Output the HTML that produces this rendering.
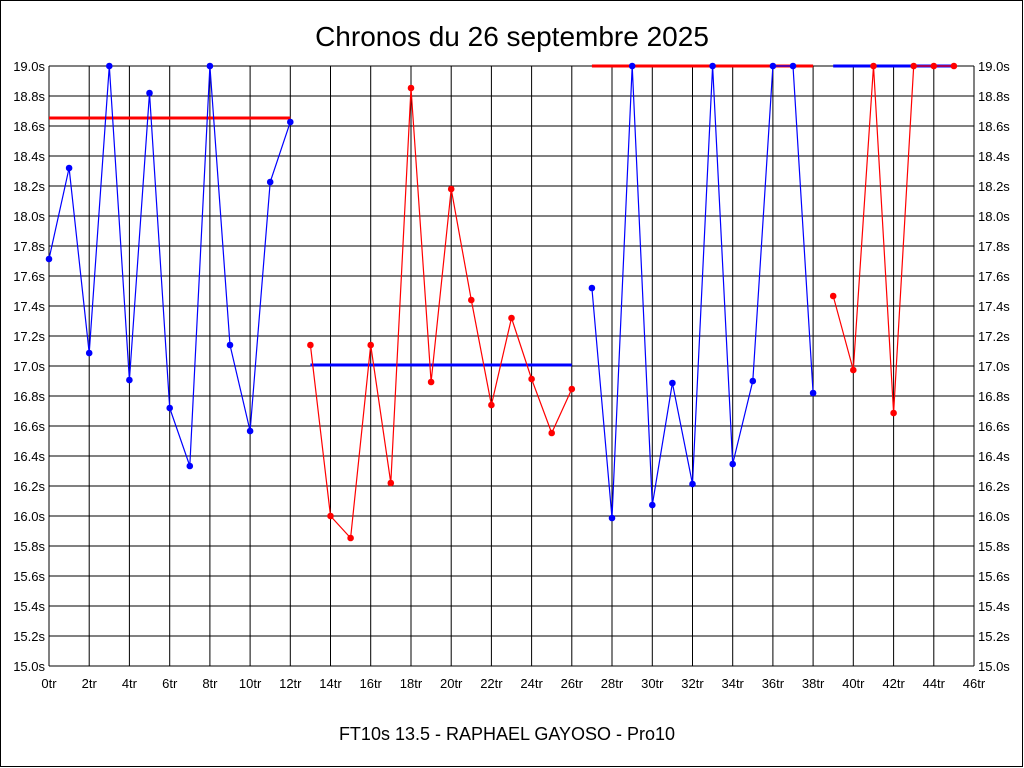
<!DOCTYPE html><html><head><style>body{margin:0;background:#fff}svg{display:block}</style></head><body>
<svg width="1024" height="768" xmlns="http://www.w3.org/2000/svg" font-family="Liberation Sans, sans-serif">
<rect x="0.5" y="0.5" width="1022" height="766" fill="#fff" stroke="#000"/>
<text x="512" y="46" font-size="28" text-anchor="middle">Chronos du 26 septembre 2025</text>
<text x="507" y="740" font-size="18" text-anchor="middle">FT10s 13.5 - RAPHAEL GAYOSO - Pro10</text>
<g stroke="#000" stroke-width="1">
<line x1="49" x2="974" y1="66" y2="66"/><line x1="49" x2="974" y1="96" y2="96"/><line x1="49" x2="974" y1="126" y2="126"/><line x1="49" x2="974" y1="156" y2="156"/><line x1="49" x2="974" y1="186" y2="186"/><line x1="49" x2="974" y1="216" y2="216"/><line x1="49" x2="974" y1="246" y2="246"/><line x1="49" x2="974" y1="276" y2="276"/><line x1="49" x2="974" y1="306" y2="306"/><line x1="49" x2="974" y1="336" y2="336"/><line x1="49" x2="974" y1="366" y2="366"/><line x1="49" x2="974" y1="396" y2="396"/><line x1="49" x2="974" y1="426" y2="426"/><line x1="49" x2="974" y1="456" y2="456"/><line x1="49" x2="974" y1="486" y2="486"/><line x1="49" x2="974" y1="516" y2="516"/><line x1="49" x2="974" y1="546" y2="546"/><line x1="49" x2="974" y1="576" y2="576"/><line x1="49" x2="974" y1="606" y2="606"/><line x1="49" x2="974" y1="636" y2="636"/><line x1="49" x2="974" y1="666" y2="666"/>
<line x1="49" x2="49" y1="66" y2="666"/><line x1="89.2" x2="89.2" y1="66" y2="666"/><line x1="129.4" x2="129.4" y1="66" y2="666"/><line x1="169.7" x2="169.7" y1="66" y2="666"/><line x1="209.9" x2="209.9" y1="66" y2="666"/><line x1="250.1" x2="250.1" y1="66" y2="666"/><line x1="290.3" x2="290.3" y1="66" y2="666"/><line x1="330.5" x2="330.5" y1="66" y2="666"/><line x1="370.7" x2="370.7" y1="66" y2="666"/><line x1="411" x2="411" y1="66" y2="666"/><line x1="451.2" x2="451.2" y1="66" y2="666"/><line x1="491.4" x2="491.4" y1="66" y2="666"/><line x1="531.6" x2="531.6" y1="66" y2="666"/><line x1="571.8" x2="571.8" y1="66" y2="666"/><line x1="612" x2="612" y1="66" y2="666"/><line x1="652.3" x2="652.3" y1="66" y2="666"/><line x1="692.5" x2="692.5" y1="66" y2="666"/><line x1="732.7" x2="732.7" y1="66" y2="666"/><line x1="772.9" x2="772.9" y1="66" y2="666"/><line x1="813.1" x2="813.1" y1="66" y2="666"/><line x1="853.3" x2="853.3" y1="66" y2="666"/><line x1="893.6" x2="893.6" y1="66" y2="666"/><line x1="933.8" x2="933.8" y1="66" y2="666"/><line x1="974" x2="974" y1="66" y2="666"/>
</g>
<g font-size="13" text-anchor="end">
<text x="45" y="71">19.0s</text><text x="45" y="101">18.8s</text><text x="45" y="131">18.6s</text><text x="45" y="161">18.4s</text><text x="45" y="191">18.2s</text><text x="45" y="221">18.0s</text><text x="45" y="251">17.8s</text><text x="45" y="281">17.6s</text><text x="45" y="311">17.4s</text><text x="45" y="341">17.2s</text><text x="45" y="371">17.0s</text><text x="45" y="401">16.8s</text><text x="45" y="431">16.6s</text><text x="45" y="461">16.4s</text><text x="45" y="491">16.2s</text><text x="45" y="521">16.0s</text><text x="45" y="551">15.8s</text><text x="45" y="581">15.6s</text><text x="45" y="611">15.4s</text><text x="45" y="641">15.2s</text><text x="45" y="671">15.0s</text>
</g>
<g font-size="13">
<text x="978" y="71">19.0s</text><text x="978" y="101">18.8s</text><text x="978" y="131">18.6s</text><text x="978" y="161">18.4s</text><text x="978" y="191">18.2s</text><text x="978" y="221">18.0s</text><text x="978" y="251">17.8s</text><text x="978" y="281">17.6s</text><text x="978" y="311">17.4s</text><text x="978" y="341">17.2s</text><text x="978" y="371">17.0s</text><text x="978" y="401">16.8s</text><text x="978" y="431">16.6s</text><text x="978" y="461">16.4s</text><text x="978" y="491">16.2s</text><text x="978" y="521">16.0s</text><text x="978" y="551">15.8s</text><text x="978" y="581">15.6s</text><text x="978" y="611">15.4s</text><text x="978" y="641">15.2s</text><text x="978" y="671">15.0s</text>
</g>
<g font-size="13" text-anchor="middle">
<text x="49" y="688">0tr</text><text x="89.2" y="688">2tr</text><text x="129.4" y="688">4tr</text><text x="169.7" y="688">6tr</text><text x="209.9" y="688">8tr</text><text x="250.1" y="688">10tr</text><text x="290.3" y="688">12tr</text><text x="330.5" y="688">14tr</text><text x="370.7" y="688">16tr</text><text x="411" y="688">18tr</text><text x="451.2" y="688">20tr</text><text x="491.4" y="688">22tr</text><text x="531.6" y="688">24tr</text><text x="571.8" y="688">26tr</text><text x="612" y="688">28tr</text><text x="652.3" y="688">30tr</text><text x="692.5" y="688">32tr</text><text x="732.7" y="688">34tr</text><text x="772.9" y="688">36tr</text><text x="813.1" y="688">38tr</text><text x="853.3" y="688">40tr</text><text x="893.6" y="688">42tr</text><text x="933.8" y="688">44tr</text><text x="974" y="688">46tr</text>
</g>
<g stroke-width="3">
<line x1="49" x2="290.3" y1="118" y2="118" stroke="#f00"/>
<line x1="310.4" x2="571.8" y1="365" y2="365" stroke="#00f"/>
<line x1="591.9" x2="813.1" y1="66" y2="66" stroke="#f00"/>
<line x1="833.2" x2="953.9" y1="66" y2="66" stroke="#00f"/>
</g>
<g fill="none" stroke-width="1.2">
<polyline stroke="#00f" points="49,259 69.1,168 89.2,353 109.3,66 129.4,380 149.5,93 169.7,408 189.8,466 209.9,66 230,345 250.1,431 270.2,182 290.3,122"/>
<polyline stroke="#f00" points="310.4,345 330.5,516 350.6,538 370.7,345 390.8,483 411,88 431.1,382 451.2,189 471.3,300 491.4,405 511.5,318 531.6,379 551.7,433 571.8,389"/>
<polyline stroke="#00f" points="591.9,288 612,518 632.2,66 652.3,505 672.4,383 692.5,484 712.6,66 732.7,464 752.8,381 772.9,66 793,66 813.1,393"/>
<polyline stroke="#f00" points="833.2,296 853.3,370 873.5,66 893.6,413 913.7,66 933.8,66 953.9,66"/>
</g>
<g fill="#00f">
<circle cx="49" cy="259" r="3.3"/><circle cx="69.1" cy="168" r="3.3"/><circle cx="89.2" cy="353" r="3.3"/><circle cx="109.3" cy="66" r="3.3"/><circle cx="129.4" cy="380" r="3.3"/><circle cx="149.5" cy="93" r="3.3"/><circle cx="169.7" cy="408" r="3.3"/><circle cx="189.8" cy="466" r="3.3"/><circle cx="209.9" cy="66" r="3.3"/><circle cx="230" cy="345" r="3.3"/><circle cx="250.1" cy="431" r="3.3"/><circle cx="270.2" cy="182" r="3.3"/><circle cx="290.3" cy="122" r="3.3"/>
<circle cx="591.9" cy="288" r="3.3"/><circle cx="612" cy="518" r="3.3"/><circle cx="632.2" cy="66" r="3.3"/><circle cx="652.3" cy="505" r="3.3"/><circle cx="672.4" cy="383" r="3.3"/><circle cx="692.5" cy="484" r="3.3"/><circle cx="712.6" cy="66" r="3.3"/><circle cx="732.7" cy="464" r="3.3"/><circle cx="752.8" cy="381" r="3.3"/><circle cx="772.9" cy="66" r="3.3"/><circle cx="793" cy="66" r="3.3"/><circle cx="813.1" cy="393" r="3.3"/>
</g>
<g fill="#f00">
<circle cx="310.4" cy="345" r="3.3"/><circle cx="330.5" cy="516" r="3.3"/><circle cx="350.6" cy="538" r="3.3"/><circle cx="370.7" cy="345" r="3.3"/><circle cx="390.8" cy="483" r="3.3"/><circle cx="411" cy="88" r="3.3"/><circle cx="431.1" cy="382" r="3.3"/><circle cx="451.2" cy="189" r="3.3"/><circle cx="471.3" cy="300" r="3.3"/><circle cx="491.4" cy="405" r="3.3"/><circle cx="511.5" cy="318" r="3.3"/><circle cx="531.6" cy="379" r="3.3"/><circle cx="551.7" cy="433" r="3.3"/><circle cx="571.8" cy="389" r="3.3"/>
<circle cx="833.2" cy="296" r="3.3"/><circle cx="853.3" cy="370" r="3.3"/><circle cx="873.5" cy="66" r="3.3"/><circle cx="893.6" cy="413" r="3.3"/><circle cx="913.7" cy="66" r="3.3"/><circle cx="933.8" cy="66" r="3.3"/><circle cx="953.9" cy="66" r="3.3"/>
</g>
</svg></body></html>
